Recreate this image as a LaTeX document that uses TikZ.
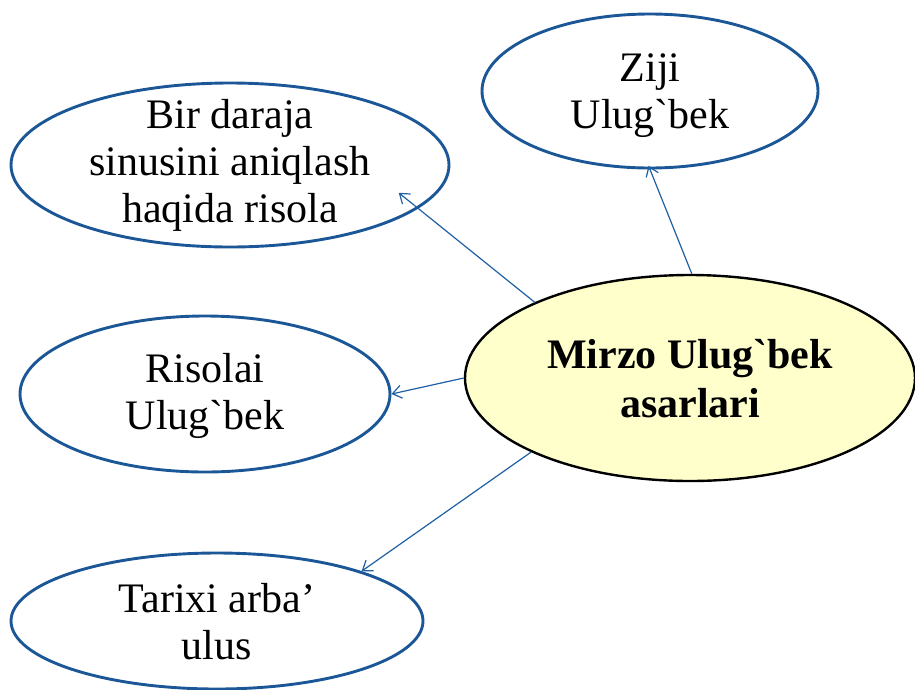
\documentclass[tikz,border=0pt]{standalone}
\usepackage{fontspec}
\setmainfont{Liberation Serif}[Ligatures=TeXOff]
\usetikzlibrary{shapes.geometric,arrows.meta}
\definecolor{ringblue}{HTML}{1B5797}
\definecolor{arrowblue}{HTML}{1F5FA3}
\definecolor{paleyellow}{HTML}{FFFFCC}
\tikzset{
  ring/.style={ellipse, draw=ringblue, line width=2.9pt, inner sep=0pt},
  hub/.style={ellipse, draw=black, line width=2.4pt, fill=paleyellow, inner sep=0pt},
  label text/.style={align=center, inner sep=0pt, font=\fontsize{42}{47}\selectfont},
  link/.style={draw=arrowblue, line width=1.2pt, -{Straight Barb[length=9pt,width=13pt,line width=1.2pt]}}
}
\begin{document}
\begin{tikzpicture}[x=1pt,y=-1pt]
\useasboundingbox (0,0) rectangle (915,689);
% ellipses
\node[hub, minimum width=450pt, minimum height=206pt] (c) at (690,378) {};
\node[ring, minimum width=336pt, minimum height=154pt] (zr) at (650,91) {};
\node[ring, minimum width=438pt, minimum height=164pt] (tl) at (230,165) {};
\node[ring, minimum width=370pt, minimum height=156pt] (ml) at (205,394) {};
\node[ring, minimum width=412pt, minimum height=136pt] (bl) at (217,621) {};
% texts
\node[label text, font=\fontsize{42}{49}\selectfont\bfseries] (ct) at ([yshift=-1pt]c.center) {Mirzo Ulug`bek\\asarlari};
\node[label text] (zrt) at ([yshift=-5pt]zr.center) {Ziji\\Ulug`bek};
\node[label text] (tlt) at (tl.center) {Bir daraja\\sinusini aniqlash\\haqida risola};
\node[label text] (mlt) at ([yshift=-2pt]ml.center) {Risolai\\Ulug`bek};
\node[label text] (blt) at ([yshift=-1pt]bl.center) {Tarixi arba’\\ulus};
% connectors
\draw[link, shorten >=-25pt] (c.154.5) -- (tl.-13.7);
\draw[link] (c.west) -- (ml.east);
\draw[link] (c.205.2) -- (bl.19.4);
\draw[link, shorten >=-4pt] (c.89) -- (zr.south);
\end{tikzpicture}
\end{document}
